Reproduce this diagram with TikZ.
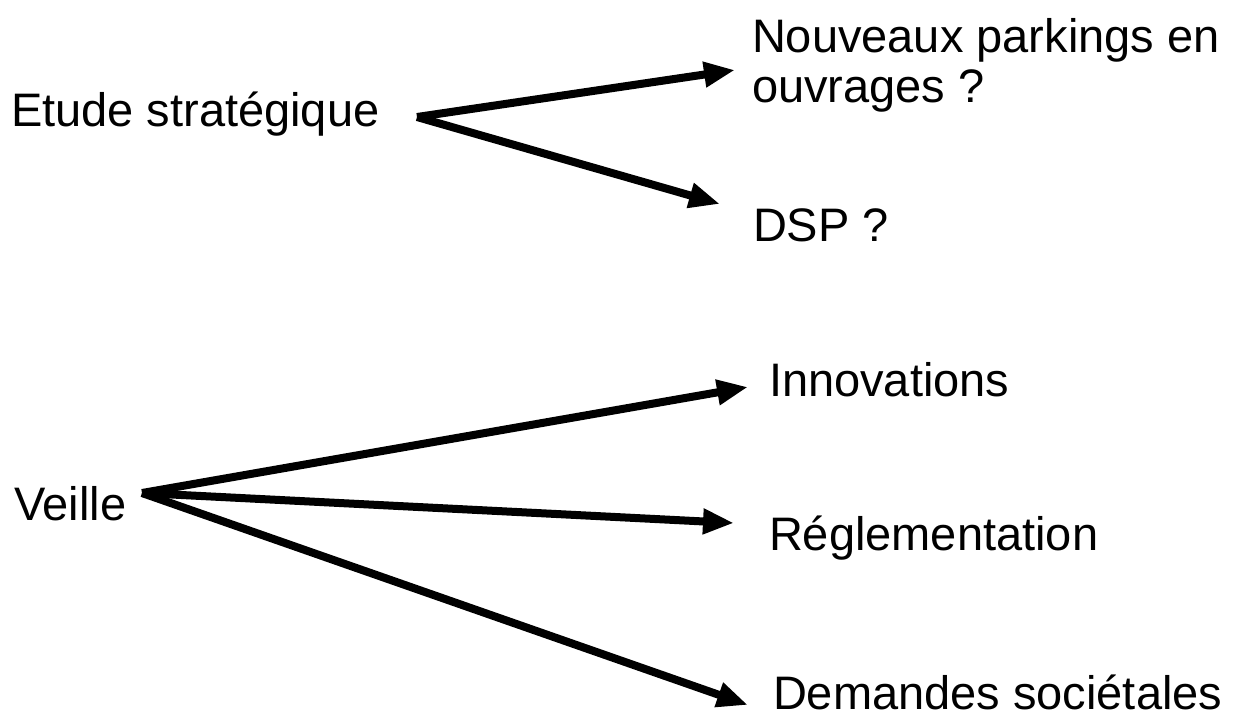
\documentclass[tikz,border=0pt]{standalone}
\usepackage{fontspec}
\setmainfont{Liberation Sans}
\usetikzlibrary{arrows.meta}
\begin{document}
\begin{tikzpicture}[x=1pt,y=-1pt,
  lbl/.style={anchor=base west,inner sep=0pt,outer sep=0pt,font=\fontsize{47}{50}\selectfont,align=left},
  arr/.style={line width=8pt,-{Triangle[length=31pt,width=24pt]}}]
\useasboundingbox[fill=white] (0,0) rectangle (1237,716);
\node[lbl] (etude) at (11,126) {Etude stratégique};
\node[lbl] (nouv) at (752,102) {Nouveaux parkings en\\ouvrages ?};
\node[lbl] (dsp) at (753,241) {DSP ?};
\node[lbl] (veille) at (14,520) {Veille};
\node[lbl] (innov) at (769,396) {Innovations};
\node[lbl] (regl) at (769,550) {Réglementation};
\node[lbl,text depth=0pt] (dem) at (773,709) {Demandes sociétales};
\coordinate (h1) at (417,117);
\coordinate (h2) at (142,493);
\coordinate (t1) at (735,70);
\coordinate (t2) at (720,204);
\coordinate (t3) at (748,387);
\coordinate (t4) at (734,523);
\coordinate (t5) at (748,705);
\draw[arr] (h1) -- (t1);
\draw[arr] (h1) -- (t2);
\draw[arr] (h2) -- (t3);
\draw[arr] (h2) -- (t4);
\draw[arr] (h2) -- (t5);
\end{tikzpicture}
\end{document}
